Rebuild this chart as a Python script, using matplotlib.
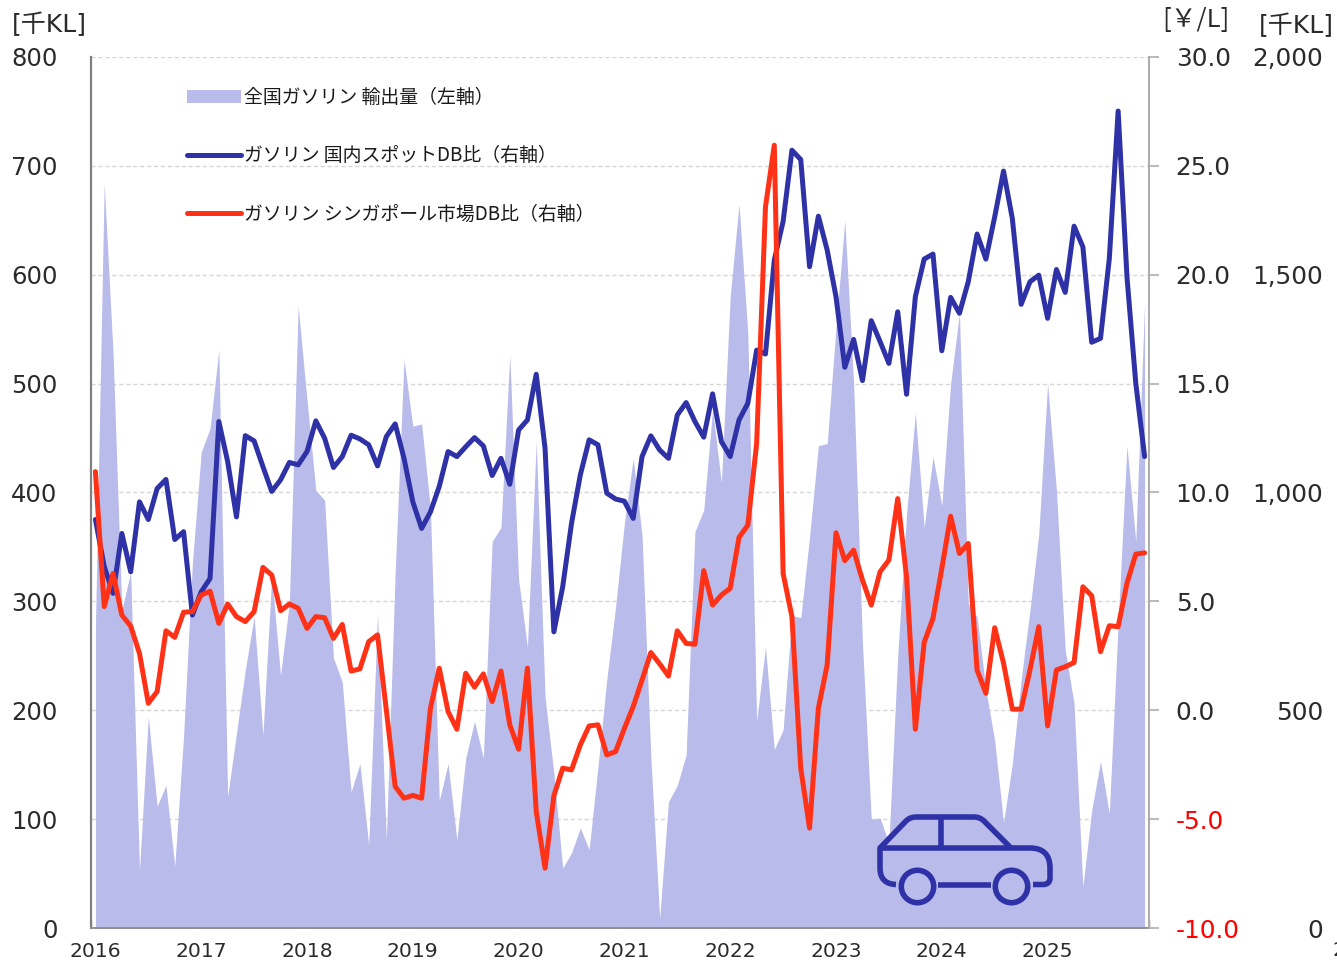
import matplotlib
matplotlib.use("Agg")
import matplotlib.pyplot as plt
from matplotlib.path import Path
from matplotlib.patches import PathPatch, Circle, Patch
from matplotlib.lines import Line2D

plt.rcParams["font.family"] = ["DejaVu Sans", "Noto Sans CJK JP"]

# ── data ─────────────────────────────────────────────────────────────────────
years = ["2016", "2017", "2018", "2019", "2020", "2021", "2022", "2023", "2024", "2025"]

# 全国ガソリン 輸出量 [千KL], monthly 2016-01 .. 2025-12
export_vol = [
    275, 684, 528, 292, 327, 53, 194, 112, 131, 57, 176, 335,
    437, 459, 531, 121, 179, 237, 286, 177, 323, 232, 299, 571,
    485, 402, 393, 248, 226, 125, 151, 76, 289, 81, 326, 522,
    461, 463, 385, 117, 151, 81, 156, 190, 156, 355, 368, 526,
    320, 258, 447, 212, 142, 55, 69, 92, 72, 148, 228, 295,
    372, 431, 361, 157, 9, 116, 131, 159, 364, 384, 476, 409,
    580, 665, 546, 190, 258, 164, 182, 287, 285, 359, 443, 445,
    552, 650, 500, 262, 100, 101, 78, 250, 380, 473, 368, 433,
    388, 500, 565, 298, 286, 219, 172, 97, 151, 228, 292, 362,
    500, 402, 255, 206, 38, 108, 153, 105, 280, 443, 355, 574,
]
# ガソリン 国内スポットDB比 [¥/L]
domestic_db = [
    8.76, 6.6, 5.37, 8.12, 6.36, 9.57, 8.76, 10.18, 10.6, 7.84, 8.2, 4.37,
    5.44, 6.05, 13.26, 11.42, 8.88, 12.61, 12.37, 11.19, 10.05, 10.58, 11.38, 11.27,
    11.88, 13.29, 12.49, 11.15, 11.65, 12.63, 12.46, 12.19, 11.22, 12.57, 13.15, 11.57,
    9.57, 8.35, 9.11, 10.28, 11.88, 11.65, 12.1, 12.52, 12.14, 10.78, 11.57, 10.38,
    12.87, 13.33, 15.43, 12.03, 3.6, 5.67, 8.58, 10.81, 12.42, 12.19, 9.97, 9.7,
    9.6, 8.81, 11.65, 12.6, 11.95, 11.57, 13.56, 14.13, 13.26, 12.54, 14.53, 12.34,
    11.65, 13.33, 14.1, 16.54, 16.36, 20.67, 22.45, 25.72, 25.29, 20.37, 22.69, 21.13,
    18.99, 15.75, 17.03, 15.14, 17.89, 16.93, 15.93, 18.3, 14.51, 18.99, 20.72, 20.95,
    16.51, 18.96, 18.23, 19.68, 21.87, 20.72, 22.66, 24.76, 22.58, 18.64, 19.68, 19.98,
    18.0, 20.24, 19.19, 22.23, 21.28, 16.9, 17.08, 20.75, 27.52, 19.91, 15.02, 11.65,
]
# ガソリン シンガポール市場DB比 [¥/L]
singapore_db = [
    10.96, 4.76, 6.28, 4.37, 3.87, 2.61, 0.32, 0.86, 3.65, 3.35, 4.5, 4.53,
    5.29, 5.47, 3.99, 4.88, 4.3, 4.07, 4.53, 6.56, 6.21, 4.57, 4.88, 4.68,
    3.76, 4.3, 4.25, 3.3, 3.94, 1.8, 1.9, 3.15, 3.46, 0.0, -3.5, -4.04,
    -3.91, -4.04, 0.09, 1.93, -0.06, -0.87, 1.7, 1.06, 1.67, 0.4, 1.8, -0.67,
    -1.79, 1.93, -4.65, -7.25, -3.93, -2.66, -2.74, -1.59, -0.72, -0.67, -2.05, -1.9,
    -0.83, 0.17, 1.39, 2.65, 2.13, 1.57, 3.65, 3.07, 3.03, 6.41, 4.83, 5.29,
    5.6, 7.94, 8.5, 12.26, 23.12, 25.95, 6.28, 4.3, -2.66, -5.41, 0.09, 2.08,
    8.15, 6.87, 7.35, 5.98, 4.83, 6.36, 6.9, 9.72, 6.13, -0.87, 3.12, 4.22,
    6.51, 8.91, 7.2, 7.66, 1.85, 0.78, 3.79, 2.16, 0.05, 0.05, 1.85, 3.84,
    -0.72, 1.85, 2.0, 2.19, 5.67, 5.26, 2.69, 3.88, 3.84, 5.83, 7.17, 7.23,
]

left_ticks = [0, 100, 200, 300, 400, 500, 600, 700, 800]
right_ticks = [-10, -5, 0, 5, 10, 15, 20, 25, 30]
far_ticks = [0, 500, 1000, 1500, 2000]

labels = ["全国ガソリン 輸出量（左軸）",
          "ガソリン 国内スポットDB比（右軸）",
          "ガソリン シンガポール市場DB比（右軸）"]

AREA = "#B9BBEB"
BLUE = "#2E32A6"
RED = "#FF3116"
DARK = "#2B2B2B"

# ── chart ────────────────────────────────────────────────────────────────────
W, H = 1337, 961
fig = plt.figure(figsize=(W / 100, H / 100), dpi=100, facecolor="white")
ax = fig.add_axes([91 / W, 1 - 928 / H, (1149 - 91) / W, (928 - 57) / H])
months = list(range(len(export_vol)))

ax.fill_between(months, export_vol, 0, color=AREA, linewidth=0, zorder=2)
ax.set_xlim(-0.5, len(months) - 0.5)
ax.set_ylim(0, 800)
ax.set_yticks(left_ticks)
ax.grid(axis="y", color="#D6D6D6", linestyle=(0, (3, 2)), linewidth=1.0, zorder=1)
ax.set_axisbelow(True)
ax.tick_params(axis="y", length=0, pad=24, labelsize=17.5, labelcolor=DARK)

# year ticks sit between Dec and Jan, labels under the January point
ax.set_xticks([i - 0.5 for i in range(0, len(months) + 1, 12)])
ax.set_xticklabels([])
ax.set_xticks(range(0, len(months), 12), minor=True)
ax.set_xticklabels(years, minor=True)
ax.tick_params(axis="x", which="major", direction="in", length=6, color="#808080", width=1)
ax.tick_params(axis="x", which="minor", length=0, pad=10, labelsize=14.6, labelcolor=DARK)

ax.spines["top"].set_visible(False)
ax.spines["right"].set_visible(False)
ax.spines["left"].set_color("#808080")
ax.spines["left"].set_linewidth(1.6)
ax.spines["bottom"].set_color("#909090")
ax.spines["bottom"].set_linewidth(1.4)

# right axis, yen per litre
ax2 = ax.twinx()
ax2.set_ylim(-10, 30)
ax2.set_yticks(right_ticks)
ax2.set_yticklabels([f"{v:.1f}" for v in right_ticks])
ax2.tick_params(axis="y", length=7.2, pad=12, width=1.1, color="#A8A8A8",
                labelsize=17.8, labelcolor=DARK)
for lab, v in zip(ax2.get_yticklabels(), right_ticks):
    if v < 0:
        lab.set_color("#FF0000")
for side in ["top", "left", "bottom"]:
    ax2.spines[side].set_visible(False)
ax2.spines["right"].set_color("#ABABAB")
ax2.spines["right"].set_linewidth(1.4)

line_blue, = ax2.plot(months, domestic_db, color=BLUE, linewidth=3.6,
                      solid_joinstyle="round", solid_capstyle="round")
line_red, = ax2.plot(months, singapore_db, color=RED, linewidth=3.6,
                     solid_joinstyle="round", solid_capstyle="round")

# third scale, labels only
ax3 = ax.twinx()
ax3.set_ylim(0, 2000)
ax3.set_yticks(far_ticks)
ax3.set_yticklabels([f"{v:,}" for v in far_ticks])
ax3.tick_params(axis="y", length=0, pad=125.5, labelsize=17.8, labelcolor=DARK)
for lab in ax3.get_yticklabels():
    lab.set_ha("right")
for spine in ax3.spines.values():
    spine.set_visible(False)
ax3.patch.set_visible(False)

# ── legend ───────────────────────────────────────────────────────────────────
handles = [Patch(facecolor=AREA, edgecolor="none"),
           Line2D([], [], color=BLUE, linewidth=3.6, solid_capstyle="round"),
           Line2D([], [], color=RED, linewidth=3.6, solid_capstyle="round")]
leg = fig.legend(handles, labels, loc="upper left", bbox_to_anchor=(186.5 / W, 1 - 87 / H),
                 frameon=False, prop={"family": "Noto Sans CJK JP", "size": 13.6},
                 handlelength=2.87, handleheight=0.7, handletextpad=0.15, labelspacing=1.97,
                 borderpad=0, borderaxespad=0)
for txt in leg.get_texts():
    txt.set_color("#1A1A1A")

# ── overlay in pixel coordinates: unit labels and car icon ───────────────────
over = fig.add_axes([0, 0, 1, 1], zorder=5)
over.set_xlim(0, W)
over.set_ylim(H, 0)
over.axis("off")

unit_font = ["DejaVu Sans", "Noto Sans CJK JP"]
over.text(12, 25, "[千KL]", fontsize=18, color=DARK, va="center", family=unit_font)
over.text(1162, 20, "[￥/L]", fontsize=18.5, color=DARK, va="center",
          family=["Noto Sans CJK JP", "DejaVu Sans"])
over.text(1259, 26, "[千KL]", fontsize=18, color=DARK, va="center", family=unit_font)
over.text(1332, 951, "2026", fontsize=14.6, color=DARK, va="center", clip_on=False)

CODES = {"M": Path.MOVETO, "L": Path.LINETO, "Q": Path.CURVE3}


def stroke(*steps):
    verts = [s[1:] for s in steps]
    codes = [CODES[s[0]] for s in steps]
    over.add_patch(PathPatch(Path(verts, codes), fill=False, edgecolor=BLUE, linewidth=4.0,
                             capstyle="butt", joinstyle="round"))


# roof
stroke(("M", 880, 848), ("L", 906, 821), ("Q", 910, 817), ("Q", 916, 817), ("L", 974, 817),
       ("Q", 980, 817), ("Q", 984, 821), ("L", 1011, 848))
# body, front and rear
stroke(("M", 941, 818), ("L", 941, 848))
stroke(("M", 896, 884.5), ("Q", 880, 884), ("Q", 880, 868), ("L", 880, 848), ("L", 1030, 848),
       ("Q", 1050, 848), ("Q", 1050, 868), ("L", 1050, 878), ("Q", 1050, 884.5), ("Q", 1043, 884.5),
       ("L", 1033, 884.5))
stroke(("M", 938, 884.5), ("L", 991, 884.5))
# wheels
for cx in [917.5, 1011.5]:
    over.add_patch(Circle((cx, 886.5), 16.2, fill=False, edgecolor=BLUE, linewidth=4.0))

fig.savefig("out.png", dpi=100)
